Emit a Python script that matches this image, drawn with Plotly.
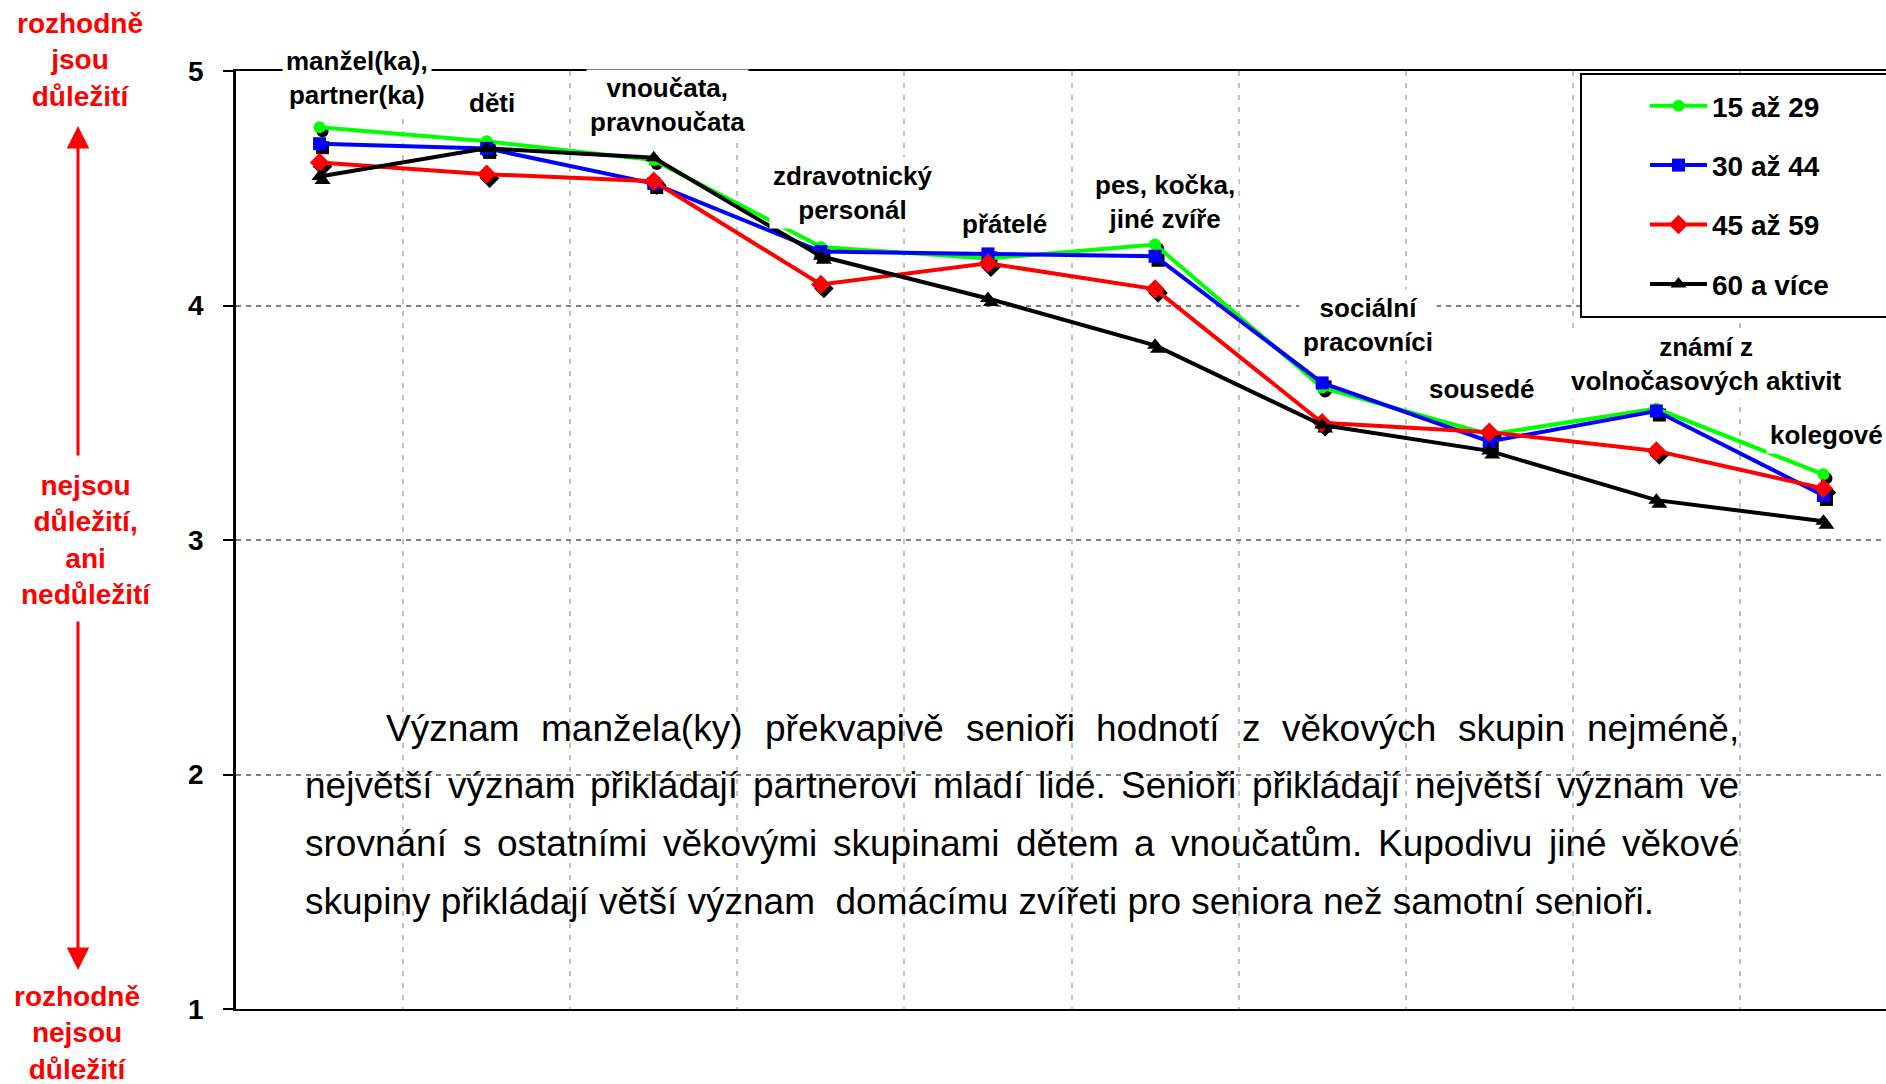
import plotly.graph_objects as go

# ---------------- data ----------------
categories = ["manžel(ka),<br>partner(ka)", "děti", "vnoučata,<br>pravnoučata",
              "zdravotnický<br>personál", "přátelé", "pes, kočka,<br>jiné zvíře",
              "sociální<br>pracovníci", "sousedé", "známí z<br>volnočasových aktivit",
              "kolegové"]
series_names = ["15 až 29", "30 až 44", "45 až 59", "60 a více"]
v15_29 = [4.76, 4.70, 4.62, 4.25, 4.20, 4.26, 3.65, 3.45, 3.56, 3.28]
v30_44 = [4.69, 4.67, 4.52, 4.23, 4.22, 4.21, 3.67, 3.42, 3.55, 3.19]
v45_59 = [4.61, 4.56, 4.53, 4.09, 4.18, 4.07, 3.50, 3.46, 3.38, 3.22]
v60_plus = [4.55, 4.67, 4.63, 4.21, 4.03, 3.83, 3.49, 3.38, 3.17, 3.08]
y_ticks = [1, 2, 3, 4, 5]

left_top = "rozhodně<br>jsou<br>důležití"
left_mid = "nejsou<br>důležití,<br>ani<br>nedůležití"
left_bot = "rozhodně<br>nejsou<br>důležití"

para_lines = [
    "Význam manžela(ky) překvapivě senioři hodnotí z věkových skupin nejméně,",
    "největší význam přikládají partnerovi mladí lidé. Senioři přikládají největší význam ve",
    "srovnání s ostatními věkovými skupinami dětem a vnoučatům. Kupodivu jiné věkové",
    "skupiny přikládají větší význam  domácímu zvířeti pro seniora než samotní senioři.",
]

# ---------------- layout helpers ----------------
W, H = 1886, 1084
PL, PR, PT, PB = 236, 1886, 71, 1009
FONT = "Liberation Sans, Arial, sans-serif"


def PX(x):
    return (x - PL) / (PR - PL)


def PY(y):
    return (PB - y) / (PB - PT)


x_idx = list(range(len(categories)))
styles = [
    dict(color="#00ff00", symbol="circle", size=12),
    dict(color="#0000ff", symbol="square", size=13),
    dict(color="#ff0000", symbol="diamond", size=15),
    dict(color="#000000", symbol="triangle-up", size=14),
]
all_values = [v15_29, v30_44, v45_59, v60_plus]

fig = go.Figure()

# marker shadows
dx, dy = 3 / 167.1, -4 / 234.5
for vals, st in zip(all_values, styles):
    fig.add_trace(go.Scatter(
        x=[i + dx for i in x_idx], y=[v + dy for v in vals], mode="markers",
        marker=dict(color="black", symbol=st["symbol"], size=st["size"]),
        showlegend=False, hoverinfo="skip"))

for k, (name, vals, st) in enumerate(zip(series_names, all_values, styles)):
    fig.add_trace(go.Scatter(
        x=x_idx, y=vals, mode="lines+markers", name=name, legendgroup=f"g{k}",
        line=dict(color=st["color"], width=4),
        marker=dict(color=st["color"], symbol=st["symbol"], size=st["size"])))

annotations = []

# category labels
label_pos = [(357, 78), (492, 103), (667, 105), (852, 193), (1004, 224),
             (1165, 202), (1368, 325), (1482, 389), (1706, 364), (1826, 435)]
for txt, (lx, ly) in zip(categories, label_pos):
    annotations.append(dict(
        text="<b>" + txt + "</b>", xref="paper", yref="paper", x=PX(lx), y=PY(ly),
        xanchor="center", yanchor="middle", align="center", showarrow=False,
        bgcolor="white", borderpad=3,
        font=dict(family=FONT, size=26, color="black")))

# red side labels
for txt, (lx, ly) in [(left_top, (80, 60)), (left_mid, (86, 540)), (left_bot, (77, 1033))]:
    annotations.append(dict(
        text="<b>" + txt + "</b>", xref="paper", yref="paper", x=PX(lx), y=PY(ly),
        xanchor="center", yanchor="middle", align="center", showarrow=False,
        font=dict(family=FONT, size=28, color="red")))

# red arrows
annotations.append(dict(text="", xref="paper", yref="paper", x=PX(78), y=PY(126),
                        ax=0, ay=331, showarrow=True, arrowhead=2, arrowsize=1.5,
                        arrowwidth=3, arrowcolor="red", standoff=0))
annotations.append(dict(text="", xref="paper", yref="paper", x=PX(78), y=PY(970),
                        ax=0, ay=-350, showarrow=True, arrowhead=2, arrowsize=1.5,
                        arrowwidth=3, arrowcolor="red", standoff=0))

# justified paragraph (Arial metrics)
CW = {' ': 278, '(': 333, ')': 333, ',': 278, '.': 278,
      'a': 556, 'b': 556, 'c': 500, 'd': 556, 'e': 556, 'f': 278, 'g': 556, 'h': 556,
      'i': 222, 'j': 222, 'k': 500, 'l': 222, 'm': 833, 'n': 556, 'o': 556, 'p': 556,
      'q': 556, 'r': 333, 's': 500, 't': 278, 'u': 556, 'v': 500, 'w': 722, 'x': 500,
      'y': 500, 'z': 500, 'á': 556, 'é': 556, 'ě': 556, 'í': 278, 'ý': 500, 'ř': 333,
      'č': 500, 'š': 500, 'ž': 500, 'ů': 556, 'ň': 556, 'V': 667, 'S': 667, 'K': 667}
PFS = 37


def tw(s):
    return sum(CW.get(c, 556) for c in s) / 1000 * PFS


para_y = [728, 785, 843, 901]
para_left = [385, 304, 304, 304]
para_right = 1738
for li, line in enumerate(para_lines):
    if li < len(para_lines) - 1:
        words = line.split(" ")
        total = sum(tw(w) for w in words)
        gap = (para_right - para_left[li] - total) / (len(words) - 1)
        xp = para_left[li]
        for w in words:
            annotations.append(dict(
                text=w, xref="paper", yref="paper", x=PX(xp), y=PY(para_y[li]),
                xanchor="left", yanchor="middle", showarrow=False, borderpad=0,
                font=dict(family=FONT, size=PFS, color="black")))
            xp += tw(w) + gap
    else:
        annotations.append(dict(
            text=line.replace("  ", "&nbsp; "), xref="paper", yref="paper",
            x=PX(para_left[li]), y=PY(para_y[li]),
            xanchor="left", yanchor="middle", showarrow=False, borderpad=0,
            font=dict(family=FONT, size=PFS, color="black")))

shapes = [dict(type="rect", xref="paper", yref="paper", x0=PX(1581), x1=PX(1900),
               y0=PY(317), y1=PY(74), fillcolor="white",
               line=dict(color="black", width=2), layer="above")]

fig.update_layout(
    width=W, height=H,
    margin=dict(l=PL, r=W - PR, t=PT, b=H - PB, pad=0),
    plot_bgcolor="white", paper_bgcolor="white",
    font=dict(family=FONT, color="black"),
    showlegend=True,
    legend=dict(x=PX(1645), y=PY(81), xanchor="left", yanchor="top",
                bgcolor="rgba(0,0,0,0)", borderwidth=0, itemwidth=57,
                tracegroupgap=20,
                font=dict(family=FONT, size=28, color="black", weight="bold")),
    annotations=annotations,
    shapes=shapes,
    xaxis=dict(range=[-0.5, -0.5 + (PR - PL) / 167.1], tickvals=[i + 0.5 for i in x_idx[:-1]],
               showticklabels=False, ticks="", showgrid=True, gridcolor="#c0c0c0",
               gridwidth=2, griddash="5px,7px", zeroline=False,
               showline=True, linecolor="black", linewidth=2, mirror=True),
    yaxis=dict(range=[1, 5], tickvals=y_ticks, ticktext=[str(t) for t in y_ticks],
               showgrid=True, gridcolor="#808080", gridwidth=2, griddash="5px,5px",
               zeroline=False, showline=True, linecolor="black", linewidth=2.5,
               ticks="outside", ticklen=10, tickwidth=2, tickcolor="black",
               ticklabelstandoff=14,
               tickfont=dict(family=FONT, size=28, color="black", weight="bold")),
)

fig.write_html("out.html", config={"displayModeBar": False},
               post_script="document.body.style.margin='0';document.body.style.overflow='hidden';")
